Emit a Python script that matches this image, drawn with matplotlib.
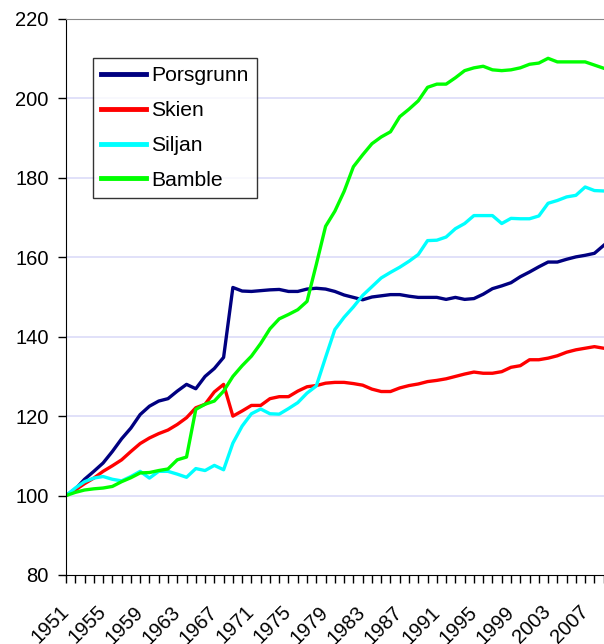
import matplotlib
matplotlib.use("Agg")
import matplotlib.pyplot as plt

plt.rcParams["font.family"] = ["Liberation Sans", "DejaVu Sans"]

years = list(range(1951, 2010))

porsgrunn = [100.0, 101.6, 104.1, 106.1, 108.2, 111.1, 114.3, 117.0, 120.4, 122.5,
             123.8, 124.4, 126.3, 128.0, 126.9, 130.0, 132.0, 134.8, 152.4, 151.5,
             151.4, 151.6, 151.8, 151.9, 151.4, 151.4, 152.0, 152.2, 152.0, 151.4,
             150.5, 149.9, 149.3, 150.0, 150.3, 150.6, 150.6, 150.2, 149.9, 149.9,
             149.9, 149.4, 149.9, 149.4, 149.6, 150.7, 152.1, 152.8, 153.6, 155.1,
             156.3, 157.6, 158.8, 158.8, 159.5, 160.1, 160.5, 161.0, 163.0]

skien = [100.0, 101.4, 103.0, 104.4, 106.1, 107.5, 109.0, 111.1, 113.1, 114.5,
         115.6, 116.5, 117.9, 119.6, 122.1, 123.0, 126.1, 128.0, 120.0, 121.3,
         122.7, 122.7, 124.4, 124.9, 124.9, 126.3, 127.4, 127.7, 128.3, 128.5,
         128.5, 128.2, 127.8, 126.8, 126.2, 126.2, 127.1, 127.7, 128.1, 128.7,
         129.0, 129.4, 130.0, 130.6, 131.1, 130.8, 130.8, 131.2, 132.3, 132.7,
         134.2, 134.2, 134.6, 135.2, 136.1, 136.7, 137.1, 137.5, 137.1]

siljan = [100.0, 101.9, 103.5, 104.4, 104.8, 104.1, 103.7, 104.8, 106.1, 104.4,
          106.1, 106.1, 105.4, 104.6, 106.8, 106.3, 107.6, 106.5, 113.2, 117.5,
          120.6, 121.8, 120.6, 120.5, 121.9, 123.4, 125.8, 127.6, 134.8, 141.8,
          144.9, 147.5, 150.4, 152.6, 154.8, 156.2, 157.5, 159.0, 160.7, 164.2,
          164.3, 165.1, 167.2, 168.5, 170.5, 170.5, 170.5, 168.5, 169.8, 169.7,
          169.7, 170.4, 173.6, 174.3, 175.2, 175.6, 177.7, 176.8, 176.7]

bamble = [100.0, 100.8, 101.4, 101.7, 101.9, 102.3, 103.5, 104.5, 105.7, 105.8,
          106.3, 106.7, 109.0, 109.7, 121.7, 123.0, 123.8, 126.3, 130.0, 132.7,
          135.1, 138.3, 142.0, 144.5, 145.6, 146.8, 148.9, 158.2, 167.8, 171.6,
          176.6, 182.8, 185.8, 188.6, 190.3, 191.6, 195.4, 197.3, 199.4, 202.8,
          203.6, 203.6, 205.2, 207.0, 207.7, 208.1, 207.2, 207.0, 207.2, 207.7,
          208.6, 208.9, 210.1, 209.2, 209.2, 209.2, 209.2, 208.4, 207.6]

series = [
    ("Porsgrunn", porsgrunn, "#000080"),
    ("Skien", skien, "#FF0000"),
    ("Siljan", siljan, "#00FFFF"),
    ("Bamble", bamble, "#00FF00"),
]

fig = plt.figure(figsize=(6.04, 6.44), dpi=100)
ax = fig.add_axes([66 / 604, 69 / 644, 537.7 / 604, 556 / 644])

for name, vals, col in series:
    ax.plot(years, vals, color=col, linewidth=2.4, label=name, solid_joinstyle="round")

ax.set_xlim(1951, 2009)
ax.set_ylim(80, 220)
ax.set_yticks(range(80, 221, 20))
ax.set_xticks(years)
ax.set_xticklabels([str(y) if (y - 1951) % 4 == 0 else "" for y in years],
                   rotation=45, ha="right", va="center", rotation_mode="anchor")

ax.tick_params(axis="both", direction="out", length=5.5, width=1, labelsize=14.5, color="black")
ax.tick_params(axis="x", pad=19)
ax.tick_params(axis="y", pad=7)

for y in range(100, 220, 20):
    ax.axhline(y, color="#DCDCF8", linewidth=1.2, zorder=0)

ax.spines["top"].set_color("#888888")
ax.spines["right"].set_visible(False)
ax.spines["left"].set_color("black")
ax.spines["bottom"].set_color("black")

leg = ax.legend(loc="upper left", bbox_to_anchor=(0.050, 0.930), borderaxespad=0,
                fontsize=15.2, frameon=True, fancybox=False, handlelength=2.1,
                handletextpad=0.25, labelspacing=0.75, borderpad=0.4)
leg.get_frame().set_edgecolor("black")
leg.get_frame().set_linewidth(1.0)
for line in leg.get_lines():
    line.set_linewidth(3.5)

fig.savefig("out.png", dpi=100)
